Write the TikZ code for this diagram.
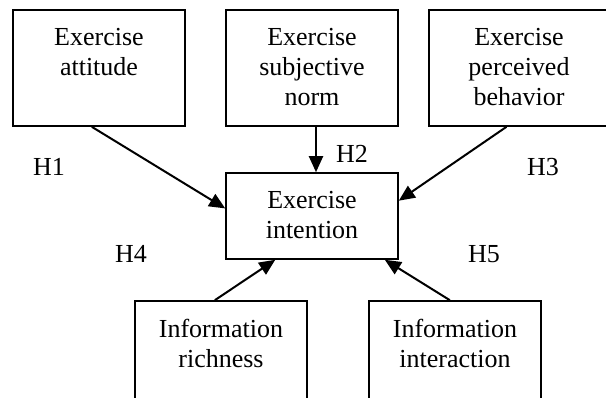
\documentclass[tikz,border=0pt]{standalone}
\usepackage{fontspec}
\setmainfont{Liberation Serif}
\usetikzlibrary{arrows.meta}

\begin{document}
\begin{tikzpicture}[x=1pt, y=-1pt, font=\fontsize{26}{30}\selectfont,
    box/.style={draw, line width=1.6pt, minimum width=172pt, minimum height=116pt, inner sep=0pt},
    boxtext/.style={anchor=north, align=center, inner sep=0pt, yshift=-19pt},
    hyp/.style={anchor=base, inner sep=0pt},
    link/.style={line width=2pt, -{Triangle[length=16pt, width=14pt]}}]
    \useasboundingbox (0,0) rectangle (606,398);

    % top row
    \node[box, label={[boxtext]north:Exercise\\attitude}] (att) at (99,68) {};
    \node[box, label={[boxtext]north:Exercise\\subjective\\norm}] (norm) at (312,68) {};
    \node[box, minimum width=180pt, label={[boxtext]north:Exercise\\perceived\\behavior}] (beh) at (519,68) {};

    % middle
    \node[box, minimum height=86pt, label={[boxtext]north:Exercise\\intention}] (int) at (312,216) {};

    % bottom row
    \node[box, label={[boxtext]north:Information\\richness}] (rich) at (221,359) {};
    \node[box, label={[boxtext]north:Information\\interaction}] (inter) at (455,359) {};

    % arrows
    \draw[link] (att.263) -- (int.175);
    \draw[link] ([xshift=4pt]norm.south) -- ([xshift=4pt]int.north);
    \draw[link] (beh.258) -- (int.10);
    \draw[link] (rich.96) -- (int.230.5);
    \draw[link] (inter.95) -- (int.329);

    % hypotheses
    \node[hyp] (h1) at (49,176) {H1};
    \node[hyp] (h2) at (352,163) {H2};
    \node[hyp] (h3) at (543,176) {H3};
    \node[hyp] (h4) at (131,263) {H4};
    \node[hyp] (h5) at (484,263) {H5};
\end{tikzpicture}
\end{document}
